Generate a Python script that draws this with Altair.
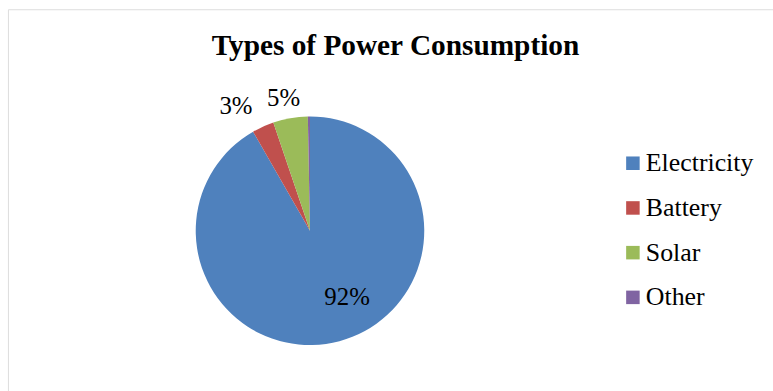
import altair as alt
import pandas as pd

categories = ["Electricity", "Battery", "Solar", "Other"]
values = [91.7, 3.1, 4.9, 0.3]
colors = ["#4F81BD", "#C0504D", "#9BBB59", "#8064A2"]

df = pd.DataFrame({
    "type": categories,
    "share": values,
    "order": list(range(len(categories))),
    "label": [f"{round(v)}%" for v in values],
})

CX, CY, R = 304, 223, 115  # pie centre inside the plot area
SERIF = "Liberation Serif"

pie = alt.Chart(df).mark_arc(outerRadius=R).encode(
    theta=alt.Theta("share:Q", stack=True),
    order=alt.Order("order:Q"),
    x=alt.value(CX),
    y=alt.value(CY),
    color=alt.Color(
        "type:N",
        sort=categories,
        scale=alt.Scale(domain=categories, range=colors),
        legend=alt.Legend(
            title=None,
            orient="none",
            legendX=616,
            legendY=142,
            symbolType="square",
            symbolSize=185,
            symbolStrokeWidth=0,
            labelFont=SERIF,
            labelFontSize=26,
            labelColor="#000000",
            rowPadding=19,
            labelOffset=0,
        ),
    ),
)

# label positions: mid-angle of each slice as a fraction of the whole
lab_base = alt.Chart(df).transform_joinaggregate(
    total="sum(share)"
).transform_window(
    cum="sum(share)", sort=[alt.SortField("order")], frame=[None, 0]
).transform_calculate(
    frac="(datum.cum - datum.share / 2) / datum.total"
).encode(
    theta=alt.Theta("frac:Q", stack=None, scale=alt.Scale(domain=[0, 1])),
    x=alt.value(CX),
    y=alt.value(CY),
    text="label:N",
)

txt = dict(font=SERIF, fontSize=25, color="#000000", align="center", baseline="middle")

lab_in = lab_base.mark_text(radius=75, dx=18, dy=-6, **txt).transform_filter(
    alt.datum.type == "Electricity")
lab_bat = lab_base.mark_text(radius=147, dx=-14, dy=8, **txt).transform_filter(
    alt.datum.type == "Battery")
lab_sol = lab_base.mark_text(radius=137, dx=-3, dy=1, **txt).transform_filter(
    alt.datum.type == "Solar")

chart = alt.layer(pie, lab_in, lab_bat, lab_sol).resolve_scale(
    theta="independent"
).properties(
    width=770,
    height=390,
    autosize=alt.AutoSizeParams(type="none"),
    padding={"left": 8, "top": 8, "right": 0, "bottom": 0},
    title=alt.TitleParams(
        "Types of Power Consumption",
        font=SERIF,
        fontSize=29.5,
        fontWeight="bold",
        color="#000000",
        anchor="middle",
        frame="group",
        dx=5,
        dy=57,
    ),
).configure_view(
    stroke="#6e6e6e", strokeWidth=2.5
).configure_legend(
    labelFont=SERIF, labelFontSize=26
).configure(background="white", font=SERIF)

chart.save("out.html", embed_options={"renderer": "svg", "actions": False})
